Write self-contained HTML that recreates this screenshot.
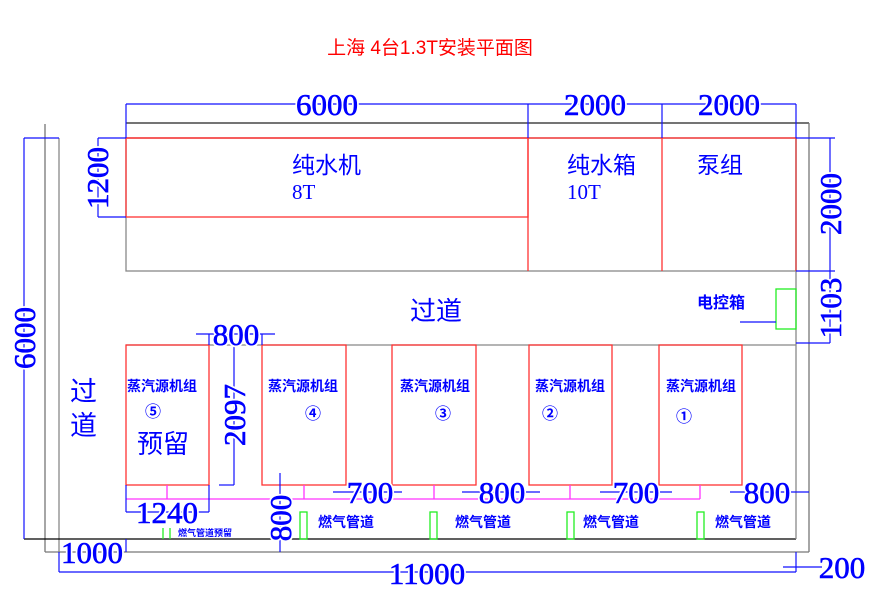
<!DOCTYPE html>
<html><head><meta charset="utf-8"><style>body{margin:0;background:#fff}svg{display:block}</style></head><body>
<svg width="878" height="592" viewBox="0 0 878 592" xmlns="http://www.w3.org/2000/svg" font-family="'Liberation Serif','Noto Serif CJK SC','Noto Sans CJK SC',serif">
<text x="430" y="54" fill="#f00" font-size="19" text-anchor="middle" font-family="'Liberation Sans','Noto Sans CJK SC',sans-serif">上海 4台1.3T安装平面图</text>
<g fill="none" stroke-width="1.3">
<line x1="126" y1="123" x2="809" y2="123" stroke="#222"/>
<line x1="809" y1="123" x2="809" y2="552" stroke="#777"/>
<line x1="45" y1="124" x2="45" y2="552" stroke="#777"/>
<line x1="59" y1="138" x2="59" y2="552" stroke="#888"/>
<line x1="24" y1="539" x2="796" y2="539" stroke="#000"/>
<line x1="45" y1="552" x2="809" y2="552" stroke="#777"/>
<line x1="796" y1="271" x2="796" y2="539" stroke="#888"/>
<rect x="126" y="138" width="670" height="133" stroke="#888"/>
<line x1="126" y1="345" x2="796" y2="345" stroke="#888"/>
<line x1="126" y1="138" x2="796" y2="138" stroke="#f22"/>
<rect x="126" y="138" width="402" height="79" stroke="#f33"/>
<line x1="528" y1="138" x2="528" y2="271" stroke="#f33"/>
<line x1="662" y1="138" x2="662" y2="271" stroke="#f33"/>
<line x1="796" y1="138" x2="796" y2="271" stroke="#d33"/>
<rect x="776" y="289" width="20" height="40" stroke="#2e2"/>
<g stroke="#f33">
<rect x="126" y="345" width="83" height="140"/>
<rect x="262" y="345" width="84" height="140"/>
<rect x="392" y="345" width="84" height="140"/>
<rect x="529" y="345" width="83" height="140"/>
<rect x="659" y="345" width="83" height="140"/>
</g>
<g stroke="#f3f">
<line x1="126" y1="499" x2="700" y2="499"/>
<line x1="167" y1="485" x2="167" y2="499"/><line x1="304" y1="485" x2="304" y2="499"/>
<line x1="434" y1="485" x2="434" y2="499"/><line x1="570" y1="485" x2="570" y2="499"/>
<line x1="700" y1="485" x2="700" y2="499"/>
</g>
<g stroke="#2e2">
<rect x="300" y="512" width="7" height="27"/><rect x="430" y="512" width="7" height="27"/>
<rect x="567" y="512" width="7" height="27"/><rect x="697" y="512" width="7" height="27"/>
<line x1="163" y1="528" x2="163" y2="539"/><line x1="170" y1="528" x2="170" y2="539"/>
</g>
<g stroke="#11f" stroke-width="1.2">
<line x1="126" y1="104" x2="796" y2="104"/>
<line x1="126" y1="104" x2="126" y2="138"/><line x1="528" y1="104" x2="528" y2="138"/>
<line x1="662" y1="104" x2="662" y2="138"/><line x1="796" y1="104" x2="796" y2="138"/>
<line x1="830" y1="138" x2="830" y2="343"/>
<line x1="796" y1="138" x2="835" y2="138"/><line x1="796" y1="271" x2="835" y2="271"/>
<line x1="796" y1="343" x2="830" y2="343"/>
<line x1="24" y1="138" x2="24" y2="539"/><line x1="24" y1="138" x2="59" y2="138"/>
<line x1="98" y1="138" x2="98" y2="217"/><line x1="98" y1="138" x2="126" y2="138"/><line x1="98" y1="217" x2="126" y2="217"/>
<line x1="196" y1="334" x2="275" y2="334"/><line x1="209" y1="334" x2="209" y2="345"/><line x1="262" y1="334" x2="262" y2="345"/>
<line x1="234" y1="345" x2="234" y2="485"/><line x1="219" y1="485" x2="234" y2="485"/>
<line x1="280" y1="473" x2="280" y2="552"/>
<line x1="126" y1="485" x2="126" y2="512"/><line x1="209" y1="485" x2="209" y2="512"/>
<line x1="126" y1="512" x2="209" y2="512"/>
<line x1="333" y1="492" x2="402" y2="492"/><line x1="462" y1="492" x2="540" y2="492"/>
<line x1="600" y1="492" x2="672" y2="492"/><line x1="730" y1="492" x2="809" y2="492"/>
<line x1="59" y1="552" x2="59" y2="572"/><line x1="126" y1="539" x2="126" y2="552"/>
<line x1="59" y1="572" x2="796" y2="572"/><line x1="796" y1="552" x2="796" y2="572"/>
<line x1="783" y1="567" x2="822" y2="567"/>
<line x1="740" y1="322" x2="776" y2="322"/>
</g>
</g>
<g fill="#00f" font-size="31" text-anchor="middle">
<g stroke="#fff" stroke-width="4" paint-order="stroke">
<text x="327" y="115">6000</text><text x="595" y="115">2000</text><text x="729" y="115">2000</text>
<text x="236" y="345">800</text>
<text x="370" y="503">700</text><text x="502" y="503">800</text><text x="636" y="503">700</text><text x="767" y="503">800</text>
<text x="167" y="523">1240</text><text x="92" y="563">1000</text><text x="427" y="584">11000</text><text x="842" y="578">200</text>
<text transform="translate(35,338) rotate(-90)">6000</text>
<text transform="translate(108,178) rotate(-90)">1200</text>
<text transform="translate(841,204) rotate(-90)">2000</text>
<text transform="translate(841,308) rotate(-90)">1103</text>
<text transform="translate(245,415) rotate(-90)">2097</text>
<text transform="translate(291,518) rotate(-90)">800</text>
</g>
<g stroke="#00f" stroke-width="0.6">
<text x="327" y="115">6000</text><text x="595" y="115">2000</text><text x="729" y="115">2000</text>
<text x="236" y="345">800</text>
<text x="370" y="503">700</text><text x="502" y="503">800</text><text x="636" y="503">700</text><text x="767" y="503">800</text>
<text x="167" y="523">1240</text><text x="92" y="563">1000</text><text x="427" y="584">11000</text><text x="842" y="578">200</text>
<text transform="translate(35,338) rotate(-90)">6000</text>
<text transform="translate(108,178) rotate(-90)">1200</text>
<text transform="translate(841,204) rotate(-90)">2000</text>
<text transform="translate(841,308) rotate(-90)">1103</text>
<text transform="translate(245,415) rotate(-90)">2097</text>
<text transform="translate(291,518) rotate(-90)">800</text>
</g>
</g>
<g fill="#00f" font-family="'Liberation Sans','Noto Sans CJK SC',sans-serif">
<text x="292" y="173" font-size="23">纯水机</text><text x="292" y="199" font-size="21" font-family="'Liberation Serif',serif">8T</text>
<text x="567" y="173" font-size="23">纯水箱</text><text x="567" y="199" font-size="21" font-family="'Liberation Serif',serif">10T</text>
<text x="697" y="173" font-size="23">泵组</text>
<text x="697" y="308" font-size="16" font-weight="bold">电控箱</text>
<text x="410" y="320" font-size="26">过道</text>
<text x="70" y="401" font-size="27">过</text><text x="70" y="435" font-size="27">道</text>
<g font-size="14" font-weight="bold">
<text x="127" y="391">蒸汽源机组</text><text x="268" y="391">蒸汽源机组</text><text x="400" y="391">蒸汽源机组</text>
<text x="535" y="391">蒸汽源机组</text><text x="666" y="391">蒸汽源机组</text>
<text x="318" y="527">燃气管道</text><text x="455" y="527">燃气管道</text><text x="583" y="527">燃气管道</text><text x="715" y="527">燃气管道</text>
</g>
<g font-size="16" font-weight="bold">
<text x="145" y="417">⑤</text><text x="305" y="419">④</text><text x="435" y="419">③</text><text x="542" y="419">②</text><text x="676" y="422">①</text>
</g>
<text x="137" y="453" font-size="26">预留</text>
<text x="178" y="536" font-size="9" font-weight="bold">燃气管道预留</text>
</g>
</svg>
</body></html>
